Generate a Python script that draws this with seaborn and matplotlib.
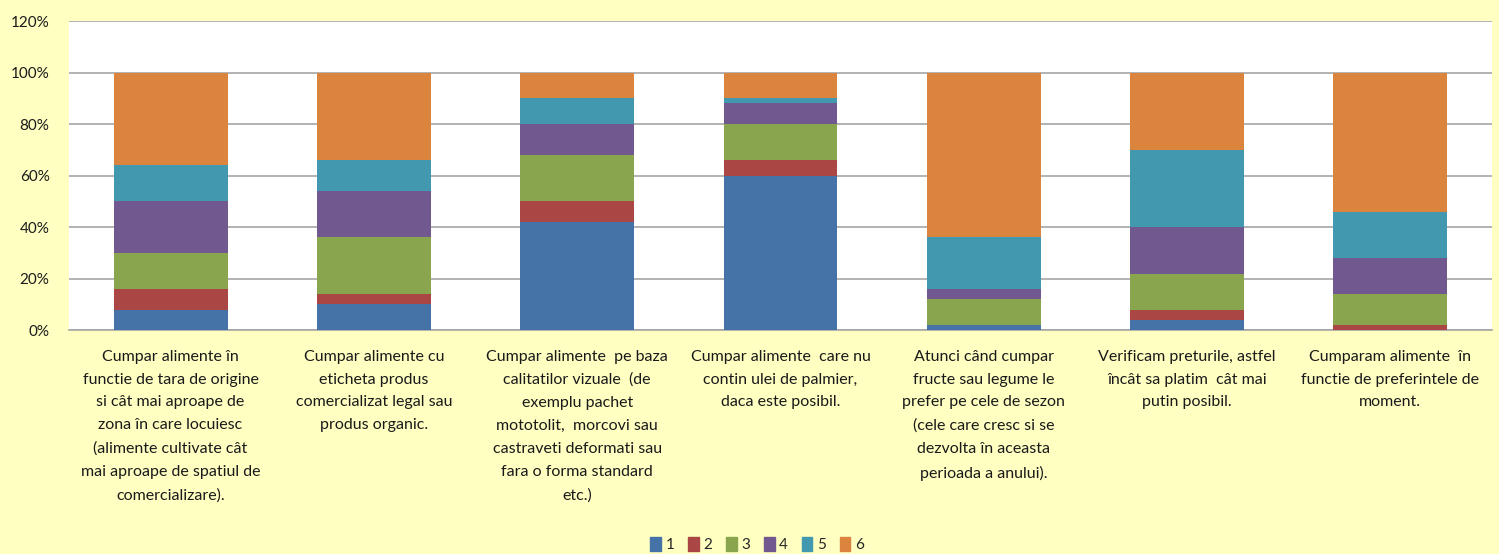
import matplotlib
matplotlib.use('Agg')
import matplotlib.pyplot as plt
import matplotlib.patches as mpatches
from matplotlib.ticker import FuncFormatter
import seaborn as sns
import numpy as np
import pandas as pd

# Data (percent of answers per score 1..6)
categories = [
    "Cumpar alimente în\nfunctie de tara de origine\nsi cât mai aproape de\nzona în care locuiesc\n(alimente cultivate cât\nmai aproape de spatiul de\ncomercializare).",
    "Cumpar alimente cu\neticheta produs\ncomercializat legal sau\nprodus organic.",
    "Cumpar alimente  pe baza\ncalitatilor vizuale  (de\nexemplu pachet\nmototolit,  morcovi sau\ncastraveti deformati sau\nfara o forma standard\netc.)",
    "Cumpar alimente  care nu\ncontin ulei de palmier,\ndaca este posibil.",
    "Atunci când cumpar\nfructe sau legume le\nprefer pe cele de sezon\n(cele care cresc si se\ndezvolta în aceasta\nperioada a anului).",
    "Verificam preturile, astfel\nîncât sa platim  cât mai\nputin posibil.",
    "Cumparam alimente  în\nfunctie de preferintele de\nmoment.",
]
series_names = ['1', '2', '3', '4', '5', '6']
s1 = [8, 10, 42, 60, 2, 4, 0]
s2 = [8, 4, 8, 6, 0, 4, 2]
s3 = [14, 22, 18, 14, 10, 14, 12]
s4 = [20, 18, 12, 8, 4, 18, 14]
s5 = [14, 12, 10, 2, 20, 30, 18]
s6 = [36, 34, 10, 10, 64, 30, 54]
colors = ['#4572A7', '#AA4643', '#89A54E', '#71588F', '#4198AF', '#DB843D']

bg = '#FFFFC2'
sns.set_style('white')
plt.rcParams['font.family'] = ['Lato', 'DejaVu Sans']

fig = plt.figure(figsize=(14.99, 5.54), dpi=100, facecolor=bg)
ax = fig.add_axes([0.046, 0.404, 0.9493, 0.558])
ax.set_facecolor('white')

x_idx = list(range(len(categories)))
bottom = np.zeros(len(categories))
for name, vals, col in zip(series_names,
                           [s1, s2, s3, s4, s5, s6], colors):
    df = pd.DataFrame({'x': x_idx, 'y': vals})
    sns.barplot(data=df, x='x', y='y', bottom=bottom,
                color=col, width=0.56, ax=ax,
                saturation=1, linewidth=0, zorder=3)
    bottom = bottom + np.array(vals)

ax.set_ylim(0, 120)
ax.set_yticks(range(0, 121, 20))
ax.yaxis.set_major_formatter(
    FuncFormatter(lambda v, p: f'{int(v)}%'))
ax.set_xlim(-0.5, len(categories) - 0.5)
ax.grid(axis='y', color='#A6A6A6', linewidth=1.2, zorder=0)
ax.set_axisbelow(True)
for s in ['top', 'right', 'left']:
    ax.spines[s].set_visible(False)
ax.spines['bottom'].set_color('#A6A6A6')
ax.spines['bottom'].set_linewidth(1.2)
ax.set_xlabel('')
ax.set_ylabel('')
ax.set_xticks(x_idx)
ax.set_xticklabels(categories, fontsize=11.5, linespacing=1.81,
                   color='#1a1a1a')
ax.tick_params(axis='x', length=0, pad=14)
ax.tick_params(axis='y', length=0, pad=14, labelsize=11,
               labelcolor='#1a1a1a')

handles = [mpatches.Patch(color=c, label=n)
           for n, c in zip(series_names, colors)]
fig.legend(handles=handles, loc='lower center', ncol=6,
           bbox_to_anchor=(0.505, -0.022), frameon=False,
           handlelength=0.7, handleheight=1.0,
           handletextpad=0.3, columnspacing=0.9,
           fontsize=11)

plt.savefig('out.png', dpi=100, facecolor=bg)
